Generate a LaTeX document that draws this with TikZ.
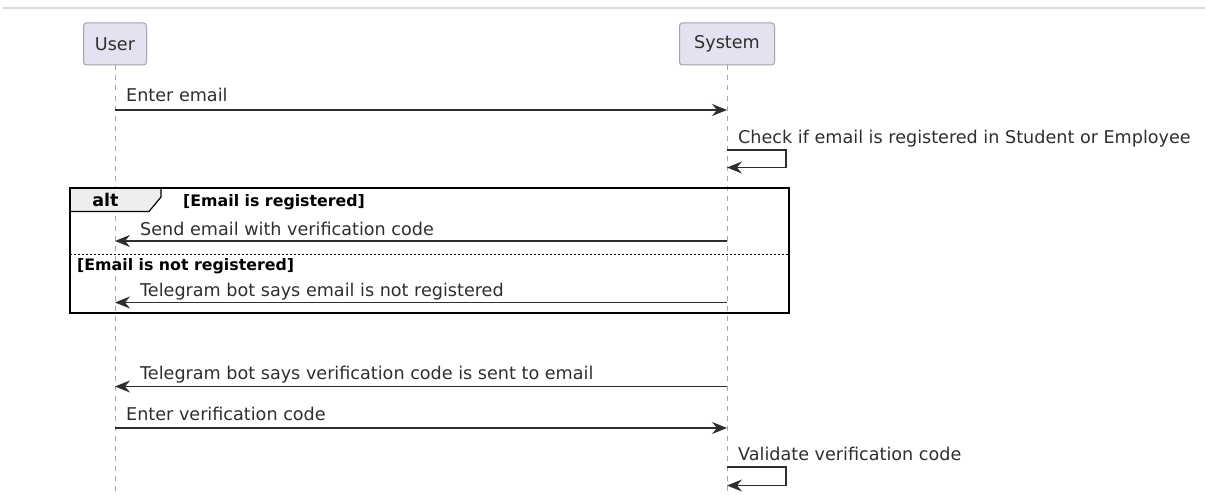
\documentclass[tikz,border=0pt]{standalone}
\usepackage{fontspec}
\setmainfont{DejaVu Sans}
\usepackage{tikz}
\usetikzlibrary{arrows.meta,positioning,calc}
\definecolor{partfill}{HTML}{E2E2F0}
\definecolor{partline}{HTML}{A3A3AD}
\definecolor{msgline}{HTML}{2E2E2E}
\definecolor{lifegray}{HTML}{A6A6A6}
\definecolor{tabfill}{HTML}{EEEEEE}
\tikzset{
  participant/.style={draw=partline,fill=partfill,rounded corners=3pt,line width=1pt,
    minimum height=42,inner sep=0pt,font=\fontsize{17.6}{20}\selectfont,text=msgline},
  lifeline/.style={draw=lifegray,dash pattern=on 5pt off 5pt,line width=0.9pt},
  msg/.style={draw=msgline,line width=1.2pt,-{Stealth[length=15pt,width=12pt,inset=5pt]}},
  msgtext/.style={anchor=base west,inner sep=0pt,font=\fontsize{17.6}{20}\selectfont,text=msgline},
  guard/.style={anchor=base west,inner sep=0pt,font=\fontsize{15.8}{18}\selectfont\bfseries,text=black}
}
\begin{document}
\begin{tikzpicture}[x=1pt,y=-1pt]
  \useasboundingbox (0,0) rectangle (1205,495);
  \draw[black!15,line width=1.5pt] (3,8) -- (1205,8);

  % participants and lifelines
  \node[participant,minimum width=63] (user) at (115,44) {User};
  \node[participant,minimum width=95] (system) at (727,44) {System};
  \path (user.south) ++(0,427) coordinate (userbot);
  \path (system.south) ++(0,427) coordinate (systembot);
  \draw[lifeline] (user.south) -- (userbot);
  \draw[lifeline] (system.south) -- (systembot);

  \foreach \n/\y in {1/110,2/241,3/302.5,4/386.5,5/428,6/150,7/167.5,8/467,9/485.5}{
    \coordinate (u\n) at (115,\y);
    \coordinate (s\n) at (727,\y);
  }

  % alt frame
  \draw[fill=tabfill,line width=1.2pt] (70,188) -- (161,188) -- (161,197) -- (149,211.5) -- (70,211.5) -- cycle;
  \draw[line width=2pt] (70,188) rectangle (789,313);
  \draw[dash pattern=on 2pt off 2pt,line width=1pt] (70,254) -- (789,254);
  \node[anchor=base,inner sep=0pt,font=\fontsize{17.5}{19}\selectfont\bfseries] (altlbl) at (105.5,206.5) {alt};
  \node[guard] (g1) at (183,206) {[Email is registered]};
  \node[guard] (g2) at (77,270) {[Email is not registered]};

  % messages
  \node[msgtext] (t1) at (126,102) {Enter email};
  \draw[msg] (u1) -- (s1);

  \node[msgtext] (t2) at (738,143) {Check if email is registered in Student or Employee};
  \draw[msg] (s6) -- ++(59,0) |- (s7);

  \node[msgtext] (t3) at (140,235) {Send email with verification code};
  \draw[msg] (s2) -- (u2);

  \node[msgtext] (t4) at (140,296.5) {Telegram bot says email is not registered};
  \draw[msg] (s3) -- (u3);

  \node[msgtext] (t5) at (140,379.5) {Telegram bot says verification code is sent to email};
  \draw[msg] (s4) -- (u4);

  \node[msgtext] (t6) at (126,420.5) {Enter verification code};
  \draw[msg] (u5) -- (s5);

  \node[msgtext] (t7) at (738,460) {Validate verification code};
  \draw[msg] (s8) -- ++(59,0) |- (s9);
\end{tikzpicture}
\end{document}
